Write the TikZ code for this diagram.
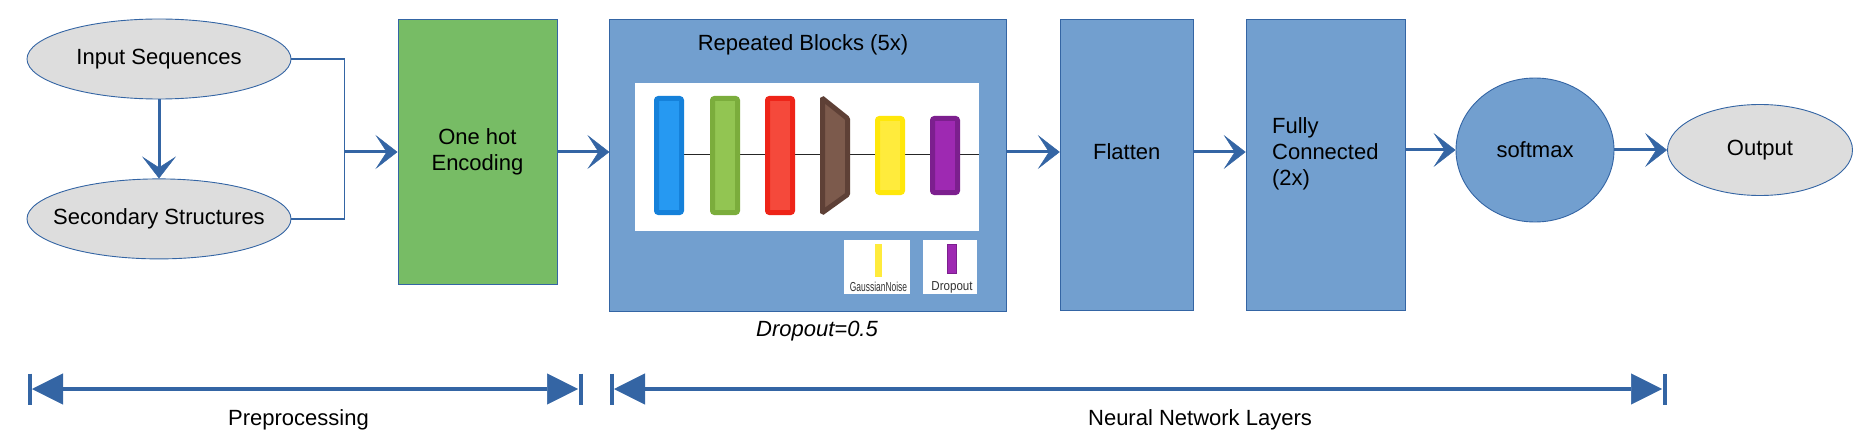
\documentclass[tikz,border=0pt]{standalone}
\usepackage{fontspec}
\setmainfont{Liberation Sans}
\usetikzlibrary{arrows.meta,positioning,shapes.geometric}
\definecolor{lineblue}{HTML}{3465A4}
\definecolor{boxblue}{HTML}{729FCF}
\definecolor{boxgreen}{HTML}{77BC65}
\definecolor{ovalgray}{HTML}{DDDDDD}
\definecolor{blueF}{HTML}{2699F2}   \definecolor{blueB}{HTML}{1581DA}
\definecolor{greenF}{HTML}{92C552}  \definecolor{greenB}{HTML}{7BAD3C}
\definecolor{redF}{HTML}{F5493B}    \definecolor{redB}{HTML}{EE2418}
\definecolor{brownF}{HTML}{7C5A4C}  \definecolor{brownB}{HTML}{5E4036}
\definecolor{yellowF}{HTML}{FFEB3C} \definecolor{yellowB}{HTML}{FFE70A}
\definecolor{purpleF}{HTML}{9E29B2} \definecolor{purpleB}{HTML}{7C1F8E}
\newcommand\mainsize{\fontsize{22}{26}\selectfont}
\newcommand\legsize{\fontsize{13}{15}\selectfont}
\tikzset{
  oval/.style={ellipse,draw=lineblue,line width=0.9pt,fill=ovalgray,inner ysep=0pt,inner xsep=-25pt,
               minimum width=264pt,minimum height=80pt,font=\mainsize},
  layer/.style={draw=lineblue,line width=0.9pt,fill=boxblue,inner sep=0pt,font=\mainsize},
  enc/.style={layer,fill=boxgreen,align=center},
  lbl/.style={inner sep=0pt,font=\mainsize},
  legend/.style={inner sep=0pt,font=\legsize,text=black!80},
  legbox/.style={fill=white,inner sep=0pt,minimum height=54pt},
  flow/.style={draw=lineblue,line width=3pt,
               -{Stealth[length=22pt,width=34pt,inset=11pt,line width=0.5pt]}},
  link/.style={draw=lineblue,line width=1.2pt},
  span/.style={draw=lineblue,line width=3.5pt,
               {Triangle[length=31pt,width=31pt,line width=0.5pt]}-{Triangle[length=31pt,width=31pt,line width=0.5pt]}},
  endbar/.style={draw=lineblue,line width=4pt},
  unit/.style={line width=5pt,rounded corners=2pt},
}
\begin{document}
\begin{tikzpicture}[x=1pt,y=-1pt]
  \useasboundingbox (0,0) rectangle (1861,441);
  % inputs
  \node[oval] (inp) at (159,59) {Input Sequences};
  \node[oval,below=79pt of inp] (sec) {Secondary Structures};
  \coordinate (junc) at (344.5,152);
  \draw[flow] (inp.south) -- (sec.north);
  \draw[link] (inp.east) -| (junc) |- (sec.east);
  % layers
  \node[enc,minimum width=159pt,minimum height=265pt,right=53pt of junc] (enc) {One hot\\Encoding};
  \node[layer,minimum width=397pt,minimum height=292pt,right=52pt of enc.north east,anchor=north west] (rep) {};
  \node[layer,minimum width=133pt,minimum height=291pt,right=52.5pt of rep.north east,anchor=north west] (flat) {};
  \node[layer,minimum width=159pt,minimum height=291pt,right=52pt of flat.north east,anchor=north west] (fc) {};
  \node[layer,ellipse,minimum width=158pt,minimum height=144pt] (soft) at (1535,150) {softmax};
  \node[oval,minimum width=185pt,minimum height=91pt] (out) at (1760,150) {Output};
  \node[lbl,anchor=base] (reptitle) at (803,51) {Repeated Blocks (5x)};
  \node[lbl] (flattxt) at (flat.center |- junc) {Flatten};
  \node[lbl,align=left,text width=107pt] (fctxt) at (fc.center |- 0,154) {Fully\\Connected\\(2x)};
  \node[lbl,anchor=base,font=\mainsize\itshape] (drop) at (817,336) {Dropout=0.5};
  % block sketch
  \node[fill=white,inner sep=0pt,minimum width=344pt,minimum height=148pt] (panel) at (807,157) {};
  \draw[line width=1pt,black!85] (684,155) -- (panel.east |- 0,155);
  \foreach \xl/\fc/\bc in {654/blueF/blueB,710/greenF/greenB,765/redF/redB}
    \draw[unit,draw=\bc,fill=\fc] (\xl+2.5,98.5) rectangle (\xl+27.5,212.5);
  \draw[unit,rounded corners=1pt,draw=brownB,fill=brownF]
    (822.5,98.5) -- (847.5,118.5) -- (847.5,194.5) -- (822.5,212.5) -- cycle;
  \foreach \xl/\fc/\bc in {875/yellowF/yellowB,930/purpleF/purpleB}
    \draw[unit,draw=\bc,fill=\fc] (\xl+2.5,118.5) rectangle (\xl+27.5,192.5);
  % legend
  \node[legbox,minimum width=66pt] (gnbox) at (877,267) {};
  \node[legbox,minimum width=54pt] (dobox) at (950,267) {};
  \fill[yellowF] (875,244) rectangle (882,277);
  \draw[line width=1pt,draw=purpleB,fill=purpleF] (947.5,244.5) rectangle (956.5,273.5);
  \node[legend,anchor=base] (gntxt) at (878.5,291) {\scalebox{0.65}[1]{GaussianNoise}};
  \node[legend,anchor=base] (dotxt) at (952,290) {\scalebox{0.89}[1]{Dropout}};
  % flow arrows
  \draw[flow] (junc) -- (enc);
  \draw[flow] (enc) -- (rep.west |- enc);
  \draw[flow] (rep.east |- enc) -- (flat.west |- enc);
  \draw[flow] (flat.east |- enc) -- (fc.west |- enc);
  \draw[flow] (fc.east |- soft) -- (soft);
  \draw[flow] (soft) -- (out);
  % stages
  \coordinate (prel) at (32,389);   \coordinate (prer) at (578,389);
  \coordinate (nnl) at (614,389);   \coordinate (nnr) at (1662,389);
  \draw[span] (prel) -- (prer);
  \draw[span] (nnl) -- (nnr);
  \foreach \c/\d in {prel/-2.5,prer/2.5,nnl/-2.5,nnr/2.5}
    \draw[endbar] (\c) ++(\d,-15.5) -- ++(0,31);
  \node[lbl,anchor=base] (pretxt) at (298.5,425) {Preprocessing};
  \node[lbl,anchor=base] (nntxt) at (1200,425) {Neural Network Layers};
\end{tikzpicture}
\end{document}
